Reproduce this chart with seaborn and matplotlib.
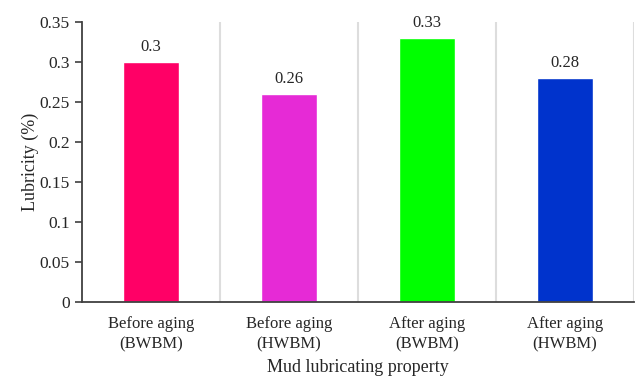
import matplotlib
matplotlib.use("Agg")
import matplotlib.pyplot as plt
import seaborn as sns
import pandas as pd
import numpy as np

categories = ["Before aging\n(BWBM)", "Before aging\n(HWBM)", "After aging\n(BWBM)", "After aging\n(HWBM)"]
values = [0.30, 0.26, 0.33, 0.28]
colors = ["#FF0066", "#E62AD6", "#00FF00", "#0033CC"]
yticks = [0, 0.05, 0.1, 0.15, 0.2, 0.25, 0.3, 0.35]
ytick_labels = ["0", "0.05", "0.1", "0.15", "0.2", "0.25", "0.3", "0.35"]

sns.set_style("white")
plt.rcParams['font.family'] = ['Liberation Serif', 'DejaVu Serif']

df = pd.DataFrame({"cat": categories, "val": values})

fig = plt.figure(figsize=(6.36, 3.79), dpi=100)
ax = fig.add_axes([0.129, 0.203, 0.868, 0.739])
sns.barplot(data=df, x="cat", y="val", hue="cat", palette=colors, width=0.41,
            saturation=1, legend=False, ax=ax)

ax.set_xlim(-0.5, len(categories) - 0.5)
ax.set_ylim(0, 0.35)
ax.set_yticks(yticks)
ax.set_yticklabels(ytick_labels, fontsize=12.5)
ax.tick_params(axis='x', labelsize=12, length=0, pad=10)
for lbl in ax.get_xticklabels():
    lbl.set_linespacing(1.35)
ax.tick_params(axis='y', length=5, width=1.2, color='#404040', direction='out', left=True, pad=4)

for b in np.arange(0.5, len(categories), 1.0):
    ax.axvline(b, color='#DDDDDD', lw=1.5, zorder=0)

for i, v in enumerate(values):
    ax.text(i, v + 0.009, f"{v:g}", ha='center', va='bottom', fontsize=12)

for s in ['top', 'right']:
    ax.spines[s].set_visible(False)
for s in ['left', 'bottom']:
    ax.spines[s].set_color('#404040')
    ax.spines[s].set_linewidth(1.3)

ax.set_xlabel("Mud lubricating property", fontsize=13, labelpad=5)
ax.set_ylabel("Lubricity (%)", fontsize=13, labelpad=0)

fig.savefig("out.png", dpi=100)
